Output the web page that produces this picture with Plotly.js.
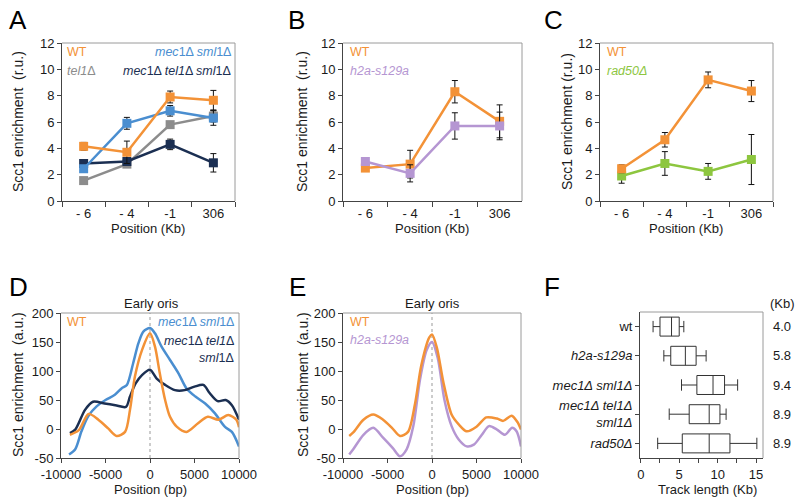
<!DOCTYPE html>
<html>
<head>
<meta charset="utf-8">
<script src="https://cdn.plot.ly/plotly-3.0.1.min.js"></script>
<style>
  html, body { margin: 0; padding: 0; background: #fff; }
  #chart { width: 800px; height: 502px; }
</style>
</head>
<body>
<div id="chart"></div>
<script>
// ---- data ----
var positionsKb = ["- 6", "- 4", "-1", "306"];

// panel A
var wtA = [4.15, 3.7, 7.9, 7.65];
var wtAErr = [0.3, 0.85, 0.45, 0.75];
var mecSmlA = [2.45, 5.9, 6.85, 6.3];
var mecSmlAErr = [0.2, 0.45, 0.4, 0.55];
var tel1A = [1.55, 2.8, 5.8, 6.45];
var tel1AErr = [0.15, 0.2, 0.2, 0.45];
var mecTelSmlA = [2.85, 3.0, 4.3, 2.9];
var mecTelSmlAErr = [0.2, 0.25, 0.4, 0.7];

// panel B
var wtB = [2.5, 2.8, 8.3, 6.05];
var wtBErr = [0.2, 1.05, 0.85, 1.25];
var h2aB = [3.0, 2.1, 5.7, 5.7];
var h2aBErr = [0.2, 0.65, 1.0, 1.05];

// panel C
var wtC = [2.45, 4.65, 9.2, 8.35];
var wtCErr = [0.3, 0.55, 0.6, 0.8];
var rad50C = [1.9, 2.85, 2.25, 3.15];
var rad50CErr = [0.55, 0.9, 0.6, 1.9];

// panel D (early oris profiles)
var wtDx = [-9000, -8000, -6900, -5800, -4700, -3750, -2800, -2250, -1700, -900, 0, 560, 1100, 1700, 2250, 3000, 4100, 5400, 6500, 7700, 8800, 9700, 10000];
var wtDy = [-10, -2, 26, 16, 1, -12, -5, 33, 90, 136, 165, 142, 96, 50, 21, 4, -5, 10, 21, 16, 24, 16, 3];
var mecSmlDx = [-9100, -8400, -7700, -6950, -6000, -5000, -3950, -3200, -2600, -1900, -1300, -750, 0, 560, 1300, 2250, 3200, 4100, 5100, 6200, 7300, 8400, 9200, 10000];
var mecSmlDy = [-44, -35, -4, 22, 39, 50, 59, 70, 76, 113, 148, 168, 174, 165, 142, 119, 96, 70, 56, 44, 27, 4, -5, -30];
var mecTelSmlDx = [-9000, -8400, -7300, -6400, -5100, -3900, -2700, -2250, -1600, -900, 0, 750, 1700, 2800, 3900, 5000, 6000, 6700, 7600, 8500, 9200, 10000];
var mecTelSmlDy = [-7, -1, 33, 47, 44, 41, 38, 56, 79, 93, 102, 87, 76, 67, 67, 73, 76, 62, 48, 50, 41, 16];

// panel E
var wtEx = [-9300, -8850, -7700, -6600, -5500, -4500, -3600, -2700, -1900, -1200, -300, 0, 550, 1300, 2200, 3000, 3900, 5000, 6100, 7300, 8000, 8950, 9600, 10000];
var wtEy = [-12, -6, 16, 25, 16, 2, -12, -5, 44, 110, 158, 163, 140, 79, 25, 8, -4, 4, 20, 18, 14, 23, 12, -1];
var h2aEx = [-9300, -8850, -7700, -6600, -5500, -4400, -3600, -2850, -2100, -1350, -600, 0, 650, 1400, 2200, 3000, 3900, 4700, 5600, 6400, 7300, 8200, 9000, 9500, 10000];
var h2aEy = [-44, -35, -10, 2, -15, -33, -47, -35, 5, 85, 136, 150, 122, 50, 5, -18, -30, -27, -10, 5, -1, -10, 2, -4, -30];

var bpTicks = [-10000, -5000, 0, 5000, 10000];
var enrichTicks = [-50, 0, 50, 100, 150, 200];

// panel F (track length box plots)
var strains = ["wt", "h2a-s129a", "mec1 sml1", "mec1 tel1 sml1", "rad50"];
var strainLabels = ["wt", "<i>h2a-s129a</i>", "<i>mec1\u0394 sml1\u0394</i>", "<i>mec1\u0394 tel1\u0394</i><br><i>sml1\u0394</i>", "<i>rad50\u0394</i>"];
var trackLow = [1.6, 3.0, 5.3, 3.7, 2.2];
var trackQ1 = [2.5, 3.9, 7.3, 6.3, 5.4];
var trackMedian = [4.0, 5.8, 9.4, 8.9, 8.9];
var trackQ3 = [5.0, 7.2, 10.9, 10.3, 11.6];
var trackHigh = [5.6, 8.5, 12.6, 11.1, 15.1];

// ---- colours ----
var orange = "#F39237", blue = "#4A8ED0", grey = "#8C8C8C", navy = "#1B2F52", purple = "#B596D2", green = "#8DC63F";
var font = "Liberation Sans, Arial, sans-serif";

function px(x) { return x / 800; }
function py(y) { return 1 - y / 502; }

function pointTrace(x, y, err, color, n) {
  return {
    x: x, y: y, type: "scatter", mode: "lines+markers",
    xaxis: "x" + n, yaxis: "y" + n,
    line: {color: color, width: 2.5},
    marker: {symbol: "square", size: 9, color: color},
    error_y: {type: "data", array: err, visible: true, color: "#111", thickness: 1, width: 3}
  };
}
function curveTrace(x, y, color, n) {
  return {
    x: x, y: y, type: "scatter", mode: "lines", xaxis: "x" + n, yaxis: "y" + n,
    line: {color: color, width: 2.5, shape: "spline", smoothing: 0.8}
  };
}

var data = [
  pointTrace(positionsKb, tel1A, tel1AErr, grey, ""),
  pointTrace(positionsKb, mecTelSmlA, mecTelSmlAErr, navy, ""),
  pointTrace(positionsKb, mecSmlA, mecSmlAErr, blue, ""),
  pointTrace(positionsKb, wtA, wtAErr, orange, ""),
  pointTrace(positionsKb, wtB, wtBErr, orange, "2"),
  pointTrace(positionsKb, h2aB, h2aBErr, purple, "2"),
  pointTrace(positionsKb, rad50C, rad50CErr, green, "3"),
  pointTrace(positionsKb, wtC, wtCErr, orange, "3"),
  curveTrace(mecSmlDx, mecSmlDy, blue, "4"),
  curveTrace(mecTelSmlDx, mecTelSmlDy, navy, "4"),
  curveTrace(wtDx, wtDy, orange, "4"),
  curveTrace(h2aEx, h2aEy, purple, "5"),
  curveTrace(wtEx, wtEy, orange, "5"),
  {
    type: "box", orientation: "h", y: strains, xaxis: "x6", yaxis: "y6",
    lowerfence: trackLow, q1: trackQ1, median: trackMedian, q3: trackQ3, upperfence: trackHigh,
    fillcolor: "white", line: {color: "#333", width: 1}, whiskerwidth: 0.6, width: 0.65,
    boxpoints: false, hoverinfo: "skip"
  }
];

function axis(extra) {
  var base = {
    showline: true, linecolor: "#444", linewidth: 1, ticks: "outside", ticklen: 4,
    tickcolor: "#444", showgrid: false, zeroline: false, fixedrange: true,
    tickfont: {family: font, size: 13, color: "#1a1a1a"}
  };
  for (var k in extra) base[k] = extra[k];
  return base;
}
function catX(domain, anchor) {
  return axis({type: "category", domain: domain, anchor: anchor, range: [-0.5, 3.5], tickson: "boundaries", ticklen: 5});
}
function ruY(domain, anchor) {
  return axis({domain: domain, anchor: anchor, range: [0, 12], dtick: 2});
}

var topRow = [py(201), py(43)];
var botRow = [py(458), py(313)];

var layout = {
  width: 800, height: 502,
  margin: {l: 0, r: 0, t: 0, b: 0},
  paper_bgcolor: "white", plot_bgcolor: "white",
  showlegend: false,
  font: {family: font, size: 13, color: "#1a1a1a"},
  xaxis: catX([px(62), px(235)], "y"),
  yaxis: ruY(topRow, "x"),
  xaxis2: catX([px(343), px(522)], "y2"),
  yaxis2: ruY(topRow, "x2"),
  xaxis3: catX([px(600), px(773)], "y3"),
  yaxis3: ruY(topRow, "x3"),
  xaxis4: axis({domain: [px(61), px(239)], anchor: "y4", range: [-10000, 10000], tickvals: bpTicks, ticktext: bpTicks.map(String)}),
  yaxis4: axis({domain: botRow, anchor: "x4", range: [-50, 200], tickvals: enrichTicks, ticktext: enrichTicks.map(String)}),
  xaxis5: axis({domain: [px(343), px(521)], anchor: "y5", range: [-10000, 10000], tickvals: bpTicks, ticktext: bpTicks.map(String)}),
  yaxis5: axis({domain: botRow, anchor: "x5", range: [-50, 200], tickvals: enrichTicks, ticktext: enrichTicks.map(String)}),
  xaxis6: axis({domain: [px(640), px(763)], anchor: "y6", range: [-0.1, 15.9], tickvals: [0, 5, 10, 15],
    minor: {ticks: "outside", dtick: 2.5, ticklen: 4, tickcolor: "#444"}}),
  yaxis6: axis({domain: [py(458), py(312)], anchor: "x6", type: "category", range: [4.5, -0.5],
    tickvals: strains, ticktext: strainLabels}),
  shapes: [],
  annotations: []
};

// grey top/right frame on every panel
["", "2", "3", "4", "5", "6"].forEach(function (n) {
  var xr = "x" + n + " domain", yr = "y" + n + " domain";
  layout.shapes.push({type: "line", xref: xr, yref: yr, x0: 0, x1: 1, y0: 1, y1: 1, line: {color: "#9a9a9a", width: 1}});
  layout.shapes.push({type: "line", xref: xr, yref: yr, x0: 1, x1: 1, y0: 0, y1: 1, line: {color: "#9a9a9a", width: 1}});
});
// dashed line at the origin
["4", "5"].forEach(function (n) {
  layout.shapes.push({type: "line", xref: "x" + n, yref: "y" + n + " domain", x0: 0, x1: 0, y0: 0, y1: 1,
    line: {color: "#999", width: 1, dash: "3px,3px"}, layer: "below"});
});

function note(text, x, y, opts) {
  var a = {text: text, xref: "paper", yref: "paper", x: px(x), y: py(y), showarrow: false,
    xanchor: "center", yanchor: "middle", font: {family: font, size: 13, color: "#1a1a1a"}};
  for (var k in opts) a[k] = opts[k];
  layout.annotations.push(a);
}

// panel letters
[["A", 18, 20], ["B", 296, 20], ["C", 553, 20], ["D", 18, 287], ["E", 297, 287], ["F", 552, 287]].forEach(function (p) {
  note(p[0], p[1], p[2], {font: {family: font, size: 26, color: "#000"}});
});

// axis titles
note("Scc1 enrichment  (r.u.)", 18, 122, {textangle: -90, font: {family: font, size: 14, color: "#1a1a1a"}});
note("Scc1 enrichment  (r.u.)", 302, 122, {textangle: -90, font: {family: font, size: 14, color: "#1a1a1a"}});
note("Scc1 enrichment (r.u.)", 567, 122, {textangle: -90, font: {family: font, size: 14, color: "#1a1a1a"}});
note("Scc1 enrichment  (a.u.)", 18, 385, {textangle: -90, font: {family: font, size: 14, color: "#1a1a1a"}});
note("Scc1 enrichment  (a.u.)", 303, 385, {textangle: -90, font: {family: font, size: 14, color: "#1a1a1a"}});
note("Position (Kb)", 148, 228, {});
note("Position (Kb)", 432, 228, {});
note("Position (Kb)", 686, 228, {});
note("Position (bp)", 150, 489, {});
note("Position (bp)", 432, 489, {});
note("Track length (Kb)", 707, 489, {});
note("Early oris", 151, 303, {});
note("Early oris", 432, 303, {});

// in-plot legends
function lab(text, color, x, y, anchor) {
  note(text, x, y, {xanchor: anchor, font: {family: font, size: 12.5, color: color}});
}
lab("WT", orange, 65, 52, "left");
lab("<i>tel1</i>\u0394", grey, 65, 71, "left");
lab("<i>mec</i>1\u0394 <i>sml</i>1\u0394", blue, 233, 52, "right");
lab("<i>mec</i>1\u0394 <i>tel1</i>\u0394 <i>sml</i>1\u0394", navy, 233, 71, "right");
lab("WT", orange, 348, 52, "left");
lab("<i>h2a-s129a</i>", purple, 348, 71, "left");
lab("WT", orange, 605, 52, "left");
lab("<i>rad50\u0394</i>", green, 605, 71, "left");
lab("WT", orange, 65, 322, "left");
lab("<i>mec</i>1\u0394 <i>sml</i>1\u0394", blue, 236, 322, "right");
lab("<i>mec</i>1\u0394 <i>tel1</i>\u0394", navy, 236, 341, "right");
lab("<i>sml</i>1\u0394", navy, 236, 358, "right");
lab("WT", orange, 348, 322, "left");
lab("<i>h2a-s129a</i>", purple, 348, 340, "left");

// medians to the right of panel F
note("(Kb)", 782, 303, {});
strains.forEach(function (s, i) {
  layout.annotations.push({text: trackMedian[i].toFixed(1), xref: "paper", yref: "y6", x: px(782), y: s,
    showarrow: false, xanchor: "center", yanchor: "middle", font: {family: font, size: 13, color: "#1a1a1a"}});
});

Plotly.newPlot("chart", data, layout, {staticPlot: true});
</script>
</body>
</html>
